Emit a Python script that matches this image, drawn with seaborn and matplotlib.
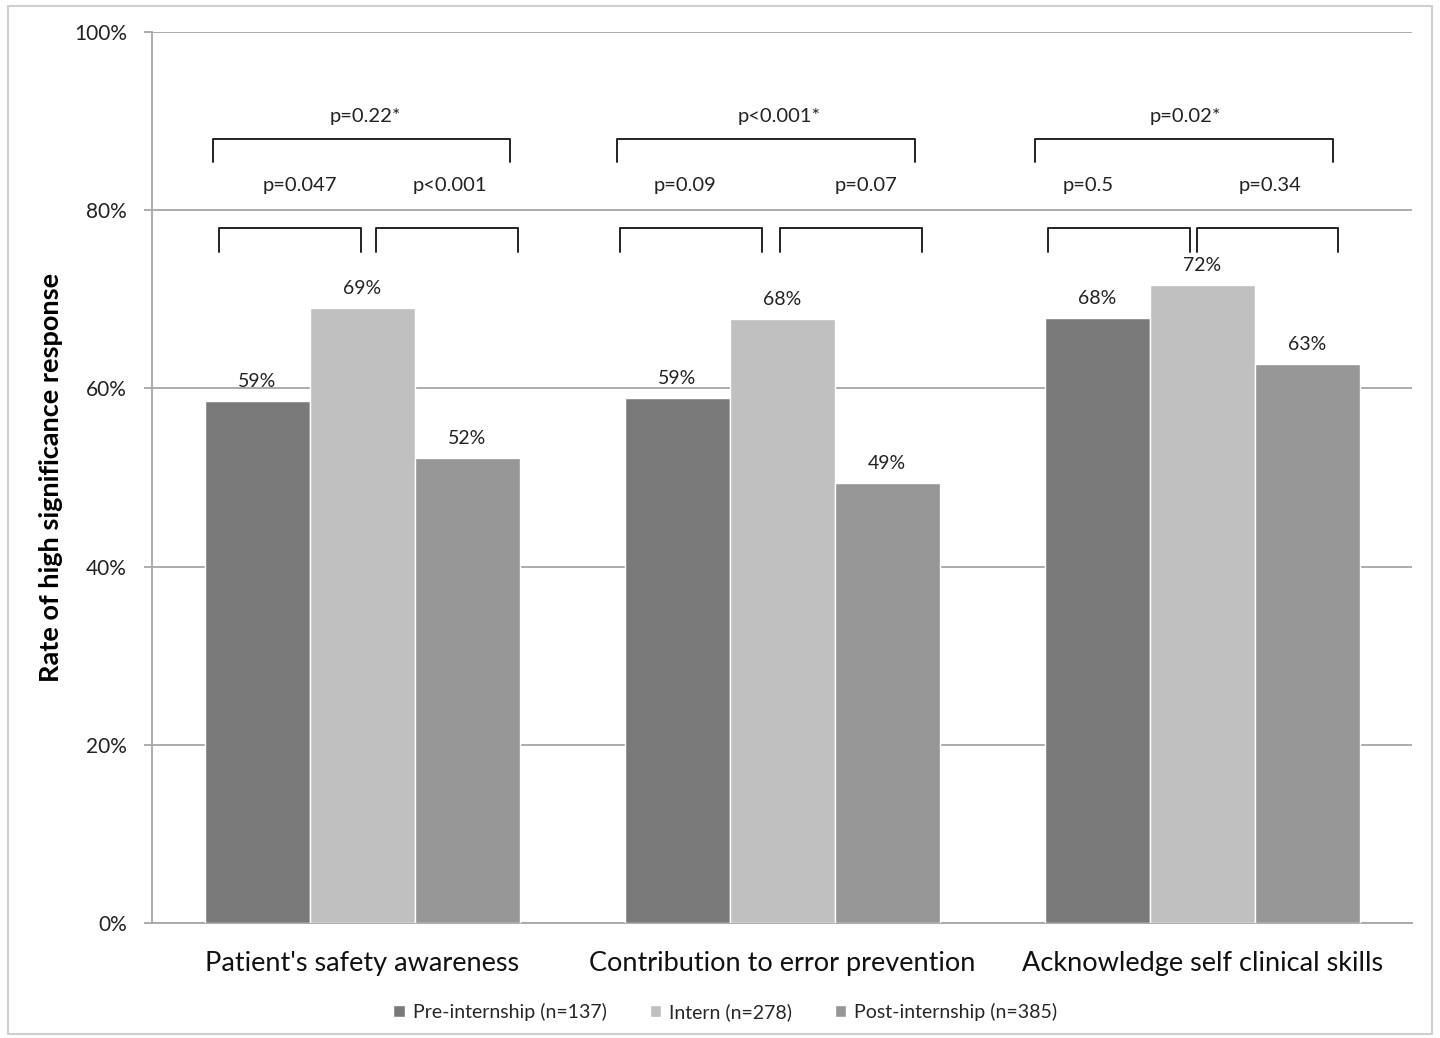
import pandas as pd
import matplotlib.pyplot as plt
import seaborn as sns
from matplotlib.patches import Rectangle

categories = ["Patient's safety awareness", "Contribution to error prevention", "Acknowledge self clinical skills"]
groups = ["Pre-internship (n=137)", "Intern (n=278)", "Post-internship (n=385)"]
pre_values = [58.6, 58.9, 67.9]
intern_values = [69.0, 67.8, 71.6]
post_values = [52.2, 49.4, 62.7]
colors = ["#7a7a7a", "#c0c0c0", "#969696"]

# p-values: pre vs intern, intern vs post, pre vs post
p_pre_intern = ["p=0.047", "p=0.09", "p=0.5"]
p_intern_post = ["p<0.001", "p=0.07", "p=0.34"]
p_pre_post = ["p=0.22*", "p<0.001*", "p=0.02*"]

rows = []
for g, vals in zip(groups, [pre_values, intern_values, post_values]):
    for c, v in zip(categories, vals):
        rows.append({"Category": c, "Group": g, "Value": v})
df = pd.DataFrame(rows)

sns.set_style("white")
plt.rcParams["font.family"] = ["Lato", "DejaVu Sans"]

fig = plt.figure(figsize=(14.4, 10.38), dpi=100)
ax = fig.add_axes([0.1056, 0.1108, 0.875, 0.8584])

sns.barplot(data=df, x="Category", y="Value", hue="Group", palette=colors,
            width=0.75, ax=ax, saturation=1, zorder=3)

for container in ax.containers:
    ax.bar_label(container, labels=[f"{b.get_height():.0f}%" for b in container],
                 padding=8, fontsize=14, color="#222222")

ax.set_ylim(0, 100)
ax.set_xlim(-0.5, 2.5)
ax.set_yticks(range(0, 101, 20))
ax.set_yticklabels([f"{t}%" for t in range(0, 101, 20)], fontsize=15, color="#222222")
ax.yaxis.grid(True, color="#a6a6a6", linewidth=1.3, zorder=0)
ax.set_axisbelow(True)
ax.tick_params(axis="y", length=6, color="#a6a6a6", width=1.3, pad=12, left=True)
ax.tick_params(axis="x", length=0, pad=20, labelsize=19.5, labelcolor="#111111")
ax.set_xlabel("")
ax.set_ylabel("Rate of high significance response", fontsize=19.5, fontweight="bold",
              labelpad=8, color="#000000")
for s in ["top", "right"]:
    ax.spines[s].set_visible(False)
for s in ["left", "bottom"]:
    ax.spines[s].set_color("#a6a6a6")
    ax.spines[s].set_linewidth(1.3)

# significance brackets (offsets relative to category centre)
small_left = [(-0.340, -0.002), (-0.386, -0.048), (-0.367, -0.029)]
small_right = [(0.033, 0.371), (-0.005, 0.333), (-0.012, 0.324)]
large = [(-0.355, 0.352), (-0.393, 0.317), (-0.398, 0.312)]
txt_left = [-0.148, -0.231, -0.271]
txt_right = [0.21, 0.2, 0.162]
txt_top = [0.007, -0.007, -0.04]


def bracket(x0, x1, y, h):
    ax.plot([x0, x0, x1, x1], [y - h, y, y, y - h], color="#222222",
            linewidth=1.4, solid_joinstyle="round", zorder=4, clip_on=False)


for i in range(3):
    bracket(i + small_left[i][0], i + small_left[i][1], 78.0, 2.7)
    bracket(i + small_right[i][0], i + small_right[i][1], 78.0, 2.7)
    bracket(i + large[i][0], i + large[i][1], 88.0, 2.6)
    ax.text(i + txt_left[i], 82.8, p_pre_intern[i], ha="center", va="center", fontsize=14.5, color="#222222")
    ax.text(i + txt_right[i], 82.8, p_intern_post[i], ha="center", va="center", fontsize=14.5, color="#222222")
    ax.text(i + txt_top[i], 90.5, p_pre_post[i], ha="center", va="center", fontsize=14.5, color="#222222")

ax.legend(loc="center", bbox_to_anchor=(0.455, -0.1), ncol=3, frameon=False,
          fontsize=14, handlelength=0.6, handleheight=0.6, handletextpad=0.4,
          columnspacing=2.2, bbox_transform=ax.transAxes)

fig.patches.append(Rectangle((8 / 1440, 1 - 1034 / 1038), 1424 / 1440, 1028 / 1038,
                             transform=fig.transFigure, fill=False,
                             edgecolor="#cfcfcf", linewidth=1.5))

fig.savefig("out.png", dpi=100)
